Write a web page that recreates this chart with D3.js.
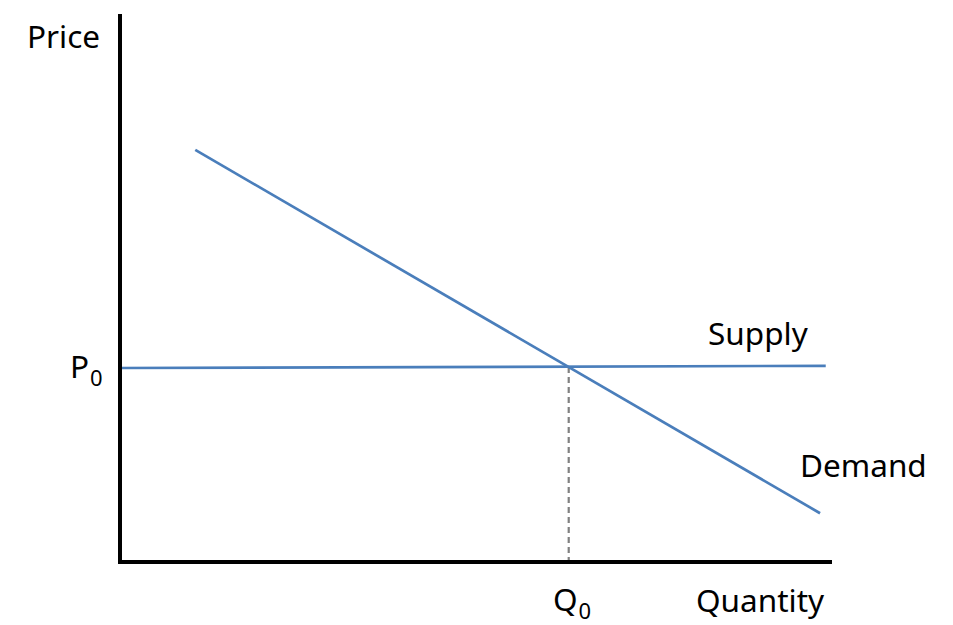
<!DOCTYPE html>
<html><head><meta charset="utf-8">
<script src="https://cdn.jsdelivr.net/npm/d3@7"></script>
<style>body{margin:0;background:#fff}svg{display:block}text{font-family:"Noto Sans",sans-serif;fill:#000}</style>
</head><body>
<svg id="c" width="953" height="625"></svg>
<script>
// data (domain units 0..100 for both axes)
const demand = [{q:10.6, p:75.2},{q:98.6, p:8.9}];
const supply = [{q:0, p:35.4},{q:99.4, p:35.8}];
const equilibrium = {q:63.2, p:35.6};
const axisLabels = {x:"Quantity", y:"Price"};
const curveLabels = ["Supply","Demand"];

const svg = d3.select("#c");
const x = d3.scaleLinear().domain([0,100]).range([120,830]);
const y = d3.scaleLinear().domain([0,100]).range([562,14]);
const line = d3.line().x(d=>x(d.q)).y(d=>y(d.p));

// dashed equilibrium drop line
svg.append("line").attr("x1",x(equilibrium.q)).attr("x2",x(equilibrium.q))
  .attr("y1",y(equilibrium.p)).attr("y2",y(0))
  .attr("stroke","#808080").attr("stroke-width",2.2).attr("stroke-dasharray","6,4");

// curves
svg.append("path").attr("d",line(supply)).attr("fill","none").attr("stroke","#4a7ebb").attr("stroke-width",2.7);
svg.append("path").attr("d",line(demand)).attr("fill","none").attr("stroke","#4a7ebb").attr("stroke-width",2.7);

// axes
svg.append("line").attr("x1",x(0)).attr("x2",x(0)).attr("y1",y(100)).attr("y2",y(0)+2)
  .attr("stroke","#000").attr("stroke-width",4);
svg.append("line").attr("x1",x(0)-2).attr("x2",x(100)+2).attr("y1",y(0)).attr("y2",y(0))
  .attr("stroke","#000").attr("stroke-width",4);

// labels
const fs = 31.5;
svg.append("text").attr("x",27).attr("y",48).attr("font-size",fs).text(axisLabels.y);
svg.append("text").attr("x",696).attr("y",612).attr("font-size",fs).text(axisLabels.x);
svg.append("text").attr("x",708).attr("y",345).attr("font-size",fs).text(curveLabels[0]);
svg.append("text").attr("x",800).attr("y",477).attr("font-size",fs).text(curveLabels[1]);

// P0
const p0 = svg.append("text").attr("x",70).attr("y",y(equilibrium.p)+11).attr("font-size",fs);
p0.append("tspan").text("P");
p0.append("tspan").attr("font-size",22).attr("dy",8).attr("dx",1).text("0");
// Q0
const q0 = svg.append("text").attr("x",553).attr("y",611).attr("font-size",fs);
q0.append("tspan").text("Q");
q0.append("tspan").attr("font-size",22).attr("dy",8).attr("dx",1).text("0");
</script>
</body></html>
